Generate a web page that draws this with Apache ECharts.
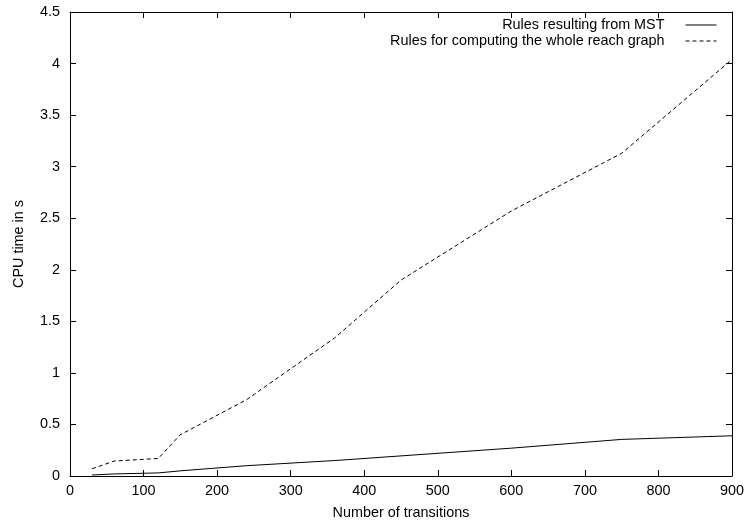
<!DOCTYPE html>
<html>
<head>
<meta charset="utf-8">
<script src="https://cdn.jsdelivr.net/npm/echarts@6/dist/echarts.min.js"></script>
<style>
html,body{margin:0;padding:0;background:#fff;}
#chart{width:747px;height:525px;}
</style>
</head>
<body>
<div id="chart"></div>
<script>
const transitions = [30, 60, 120, 150, 240, 360, 450, 600, 750, 900];
const mstTimes = [0.01, 0.02, 0.03, 0.05, 0.10, 0.15, 0.195, 0.27, 0.355, 0.39];
const wholeTimes = [0.07, 0.145, 0.17, 0.40, 0.74, 1.34, 1.90, 2.57, 3.13, 4.04];
const seriesNames = ['Rules resulting from MST', 'Rules for computing the whole reach graph'];
const xTicks = [0, 100, 200, 300, 400, 500, 600, 700, 800, 900];
const yTicks = [0, 0.5, 1, 1.5, 2, 2.5, 3, 3.5, 4, 4.5];

const font = 'Liberation Sans, Arial, Helvetica, sans-serif';
const fs = 14.4;
const chart = echarts.init(document.getElementById('chart'));
const axisCommon = {
  axisLine: {show: true, onZero: false, lineStyle: {color: '#000', width: 1}},
  axisTick: {show: true, inside: true, length: 6, lineStyle: {color: '#000'}},
  splitLine: {show: false}
};
chart.setOption({
  animation: false,
  backgroundColor: '#fff',
  textStyle: {fontFamily: font},
  grid: {left: 70, right: 14, top: 12, bottom: 46, containLabel: false},
  legend: {
    orient: 'vertical',
    align: 'right',
    right: 30,
    top: 18,
    padding: 0,
    itemWidth: 31,
    itemHeight: 10,
    itemGap: 2,
    data: seriesNames,
    itemStyle: {opacity: 0},
    lineStyle: {width: 1},
    textStyle: {fontFamily: font, fontSize: fs, color: '#000', padding: [0, 16, 0, 0]}
  },
  xAxis: [
    Object.assign({}, axisCommon, {
      type: 'value', min: xTicks[0], max: xTicks[xTicks.length - 1], interval: xTicks[1] - xTicks[0],
      name: 'Number of transitions', nameLocation: 'middle', nameGap: 30,
      nameTextStyle: {fontFamily: font, fontSize: fs, color: '#000'},
      axisLabel: {color: '#000', fontSize: fs, fontFamily: font, margin: 8}
    }),
    Object.assign({}, axisCommon, {
      type: 'value', min: xTicks[0], max: xTicks[xTicks.length - 1], interval: xTicks[1] - xTicks[0], position: 'top',
      axisLabel: {show: false}
    })
  ],
  yAxis: [
    Object.assign({}, axisCommon, {
      type: 'value', min: yTicks[0], max: yTicks[yTicks.length - 1], interval: yTicks[1] - yTicks[0],
      name: 'CPU time in s', nameLocation: 'middle', nameGap: 44,
      nameTextStyle: {fontFamily: font, fontSize: fs, color: '#000'},
      axisLabel: {color: '#000', fontSize: fs, fontFamily: font, margin: 10}
    }),
    Object.assign({}, axisCommon, {
      type: 'value', min: yTicks[0], max: yTicks[yTicks.length - 1], interval: yTicks[1] - yTicks[0], position: 'right',
      axisLabel: {show: false}
    })
  ],
  series: [
    {
      name: seriesNames[0], type: 'line', symbol: 'none', xAxisIndex: 0, yAxisIndex: 0,
      lineStyle: {color: '#000', width: 1, type: 'solid'},
      itemStyle: {color: '#000'},
      data: transitions.map((t, i) => [t, mstTimes[i]])
    },
    {
      name: seriesNames[1], type: 'line', symbol: 'none', xAxisIndex: 0, yAxisIndex: 0,
      lineStyle: {color: '#000', width: 1, type: [4, 3]},
      itemStyle: {color: '#000'},
      data: transitions.map((t, i) => [t, wholeTimes[i]])
    }
  ]
});
</script>
</body>
</html>
